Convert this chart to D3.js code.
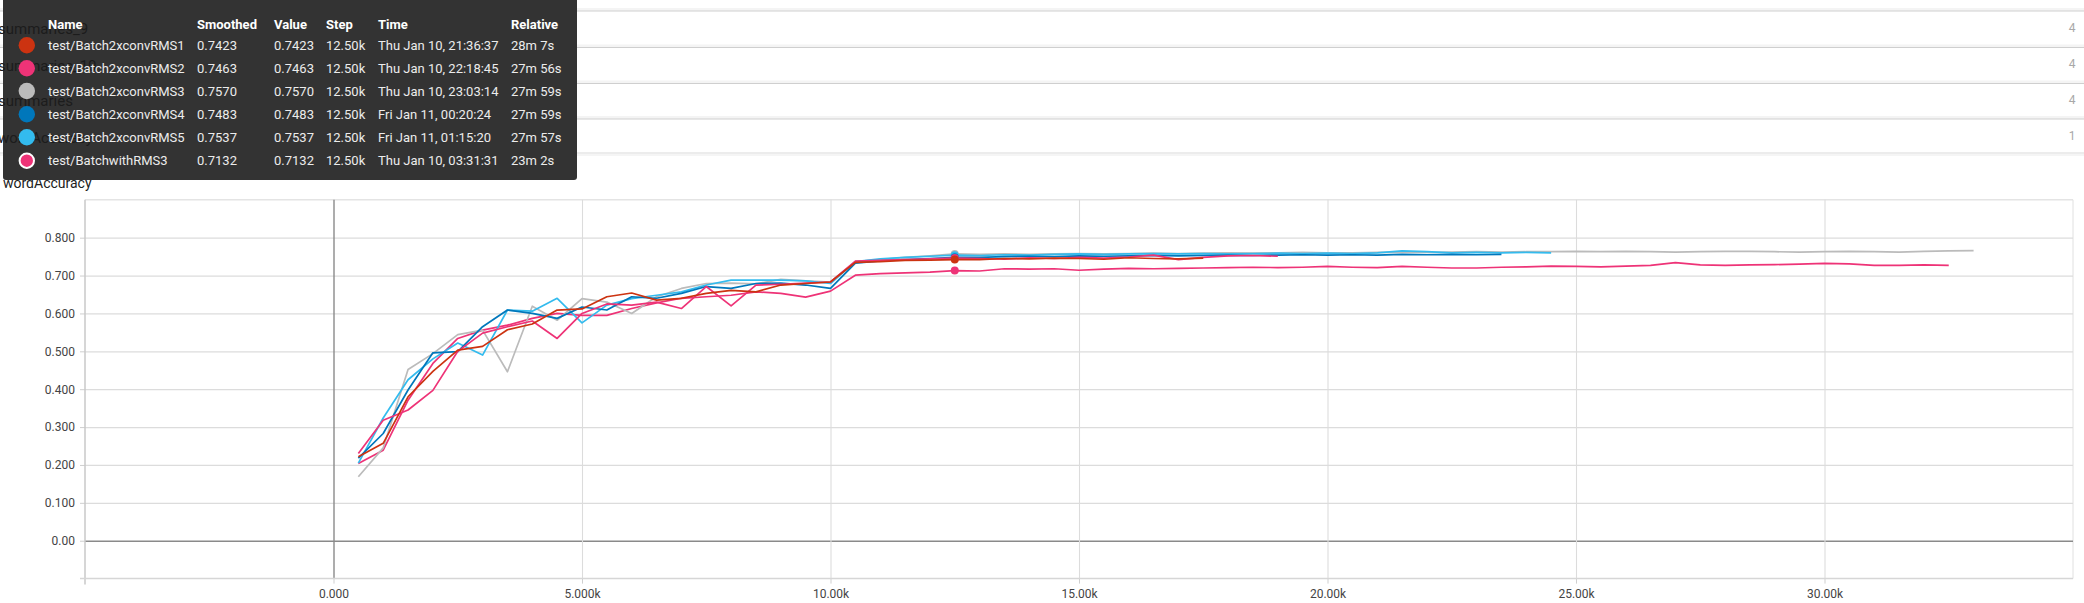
<!DOCTYPE html>
<html><head><meta charset="utf-8">
<script src="https://cdn.jsdelivr.net/npm/d3@7"></script>
<style>
html,body{margin:0;padding:0;background:#fff;overflow:hidden}
svg{display:block;font-family:Roboto,"Noto Sans",sans-serif}
</style>
</head><body><svg id="c" width="2084" height="603"></svg>
<script>
// ---------- data ----------
const steps = [500,1000,1500,2000,2500,3000,3500,4000,4500,5000,5500,6000,6500,7000,7500,8000,8500,9000,9500,10000,
  10500,11000,11500,12000,12500,13000,13500,14000,14500,15000,15500,16000,16500,17000,17500,18000,18500,19000,19500,20000,
  20500,21000,21500,22000,22500,23000,23500,24000,24500,25000,25500,26000,26500,27000,27500,28000,28500,29000,29500,30000,
  30500,31000,31500,32000,32500,33000];

const runNames = ["test/Batch2xconvRMS1","test/Batch2xconvRMS2","test/Batch2xconvRMS3","test/Batch2xconvRMS4","test/Batch2xconvRMS5","test/BatchwithRMS3"];
const runColors = ["#cc3311","#ee3377","#bbbbbb","#0077bb","#33bbee","#ee3377"];

const rms1 = [0.222,0.257,0.380,0.447,0.503,0.513,0.557,0.572,0.609,0.612,0.644,0.654,0.635,0.640,0.653,0.661,0.657,0.675,0.679,0.683,
  0.735,0.737,0.740,0.741,0.7423,0.742,0.745,0.744,0.746,0.745,0.743,0.747,0.745,0.744,0.746];
const rms2 = [0.230,0.318,0.345,0.397,0.500,0.548,0.565,0.580,0.534,0.600,0.625,0.622,0.630,0.613,0.671,0.620,0.675,0.677,0.680,0.683,
  0.738,0.740,0.742,0.744,0.7463,0.745,0.743,0.747,0.745,0.748,0.746,0.749,0.754,0.742,0.748,0.752,0.753,0.751];
const rms3 = [0.169,0.245,0.452,0.494,0.544,0.556,0.446,0.619,0.582,0.639,0.630,0.600,0.644,0.666,0.679,0.680,0.678,0.690,0.686,0.683,
  0.737,0.742,0.748,0.752,0.757,0.756,0.757,0.756,0.757,0.758,0.757,0.758,0.759,0.758,0.759,0.760,0.759,0.760,0.761,0.760,
  0.760,0.761,0.762,0.761,0.762,0.763,0.762,0.763,0.763,0.764,
  0.763,0.764,0.763,0.762,0.763,0.764,0.764,0.763,0.762,0.763,
  0.764,0.763,0.762,0.764,0.765,0.766];
const rms4 = [0.218,0.283,0.398,0.496,0.499,0.565,0.609,0.600,0.587,0.617,0.609,0.644,0.640,0.653,0.671,0.666,0.679,0.680,0.675,0.666,
  0.733,0.739,0.742,0.745,0.7483,0.748,0.750,0.751,0.750,0.752,0.751,0.752,0.753,0.752,0.753,0.754,0.753,0.754,0.755,0.754,
  0.755,0.754,0.756,0.755,0.756,0.755,0.756];
const rms5 = [0.205,0.324,0.425,0.480,0.522,0.490,0.609,0.606,0.640,0.575,0.622,0.639,0.648,0.657,0.675,0.688,0.688,0.688,0.686,0.679,
  0.737,0.744,0.748,0.751,0.7537,0.753,0.755,0.754,0.756,0.757,0.756,0.757,0.758,0.757,0.758,0.757,0.758,0.759,0.758,0.759,
  0.758,0.760,0.765,0.763,0.760,0.761,0.760,0.761,0.760];
const batchRms3 = [0.204,0.239,0.371,0.468,0.534,0.556,0.569,0.587,0.600,0.595,0.595,0.613,0.628,0.640,0.644,0.648,0.657,0.653,0.643,0.659,
  0.701,0.705,0.707,0.709,0.7132,0.712,0.718,0.717,0.718,0.714,0.717,0.719,0.718,0.719,0.720,0.721,0.722,0.721,0.722,0.724,
  0.722,0.721,0.724,0.722,0.720,0.720,0.722,0.723,0.725,0.724,
  0.723,0.725,0.727,0.734,0.728,0.727,0.728,0.729,0.730,0.732,
  0.731,0.727,0.727,0.728,0.727];
const seriesValues = [rms1, rms2, rms3, rms4, rms5, batchRms3];

const yTickVals = [0,0.1,0.2,0.3,0.4,0.5,0.6,0.7,0.8];
const yTickLabels = ["0.00","0.100","0.200","0.300","0.400","0.500","0.600","0.700","0.800"];
const xTickVals = [0,5000,10000,15000,20000,25000,30000];
const xTickLabels = ["0.000","5.000k","10.00k","15.00k","20.00k","25.00k","30.00k"];

const hoverStep = 12500;
const ttHeaders = ["Name","Smoothed","Value","Step","Time","Relative"];
const ttSmoothed = ["0.7423","0.7463","0.7570","0.7483","0.7537","0.7132"];
const ttValue = ["0.7423","0.7463","0.7570","0.7483","0.7537","0.7132"];
const ttStep = ["12.50k","12.50k","12.50k","12.50k","12.50k","12.50k"];
const ttTime = ["Thu Jan 10, 21:36:37","Thu Jan 10, 22:18:45","Thu Jan 10, 23:03:14","Fri Jan 11, 00:20:24","Fri Jan 11, 01:15:20","Thu Jan 10, 03:31:31"];
const ttRelative = ["28m 7s","27m 56s","27m 59s","27m 59s","27m 57s","23m 2s"];

const groupNames = ["summaries_9","summaries_10","summaries","wordAccuracy"];
const groupCounts = ["4","4","4","1"];
const chartTitle = "wordAccuracy";

// ---------- drawing ----------
const svg = d3.select("#c");
svg.append("rect").attr("width",2084).attr("height",603).attr("fill","#fff");

// collapsed group rows
const rowY = [11, 47.5, 83.5, 119];
rowY.forEach((yy,i)=>{
  svg.append("rect").attr("x",0).attr("y",yy-3).attr("width",2084).attr("height",3).attr("fill","#f4f4f4");
  svg.append("line").attr("x1",0).attr("x2",2084).attr("y1",yy).attr("y2",yy)
    .attr("stroke","#cfcfcf").attr("stroke-width",1.2);
  svg.append("text").attr("x",2072).attr("y",yy+20.5).attr("text-anchor","middle")
    .attr("font-size",12).attr("fill","#a8a8a8").text(groupCounts[i]);
});
svg.append("rect").attr("x",0).attr("y",152).attr("width",2084).attr("height",2).attr("fill","#ececec");
svg.append("rect").attr("x",0).attr("y",154).attr("width",2084).attr("height",2).attr("fill","#f5f5f5");

// chart scales
const X0 = 85, X1 = 2073, Y0 = 578.6, Y1 = 199.8;
const x = d3.scaleLinear().domain([-5000,35000]).range([X0,X1]);
const y = d3.scaleLinear().domain([-0.1,0.9]).range([Y0,Y1]);

// chart title
svg.append("text").attr("x",3).attr("y",188).attr("font-size",14).attr("fill","#212121").text(chartTitle);

// borders
svg.append("line").attr("x1",X0).attr("x2",X1).attr("y1",Y1).attr("y2",Y1).attr("stroke","#e4e4e4").attr("stroke-width",1.5);
svg.append("line").attr("x1",X1).attr("x2",X1).attr("y1",Y1).attr("y2",Y0).attr("stroke","#e0e0e0");

// y axis with grid
const yAxis = d3.axisLeft(y).tickValues(yTickVals).tickFormat((d,i)=>yTickLabels[i])
  .tickSize(-(X1-X0)).tickPadding(10);
const gy = svg.append("g").attr("transform",`translate(${X0},0)`).call(yAxis);
gy.select(".domain").remove();
gy.selectAll(".tick line").attr("stroke",d=>d===0?"#8a8a8a":"#dcdcdc").attr("stroke-width",d=>d===0?1.6:1.2);
gy.selectAll(".tick text").attr("font-size",12).attr("fill","#444").attr("font-family","Roboto, sans-serif");
gy.selectAll(".tick").append("line").attr("x1",-5).attr("x2",0).attr("stroke","#cfcfcf");

// x axis with grid
const xAxis = d3.axisBottom(x).tickValues(xTickVals).tickFormat((d,i)=>xTickLabels[i])
  .tickSize(-(Y0-Y1)).tickPadding(11);
const gx = svg.append("g").attr("transform",`translate(0,${Y0})`).call(xAxis);
gx.select(".domain").remove();
gx.selectAll(".tick line").attr("stroke",d=>d===0?"#8a8a8a":"#dcdcdc").attr("stroke-width",d=>d===0?1.4:1.1);
gx.selectAll(".tick text").attr("font-size",12).attr("fill","#444").attr("font-family","Roboto, sans-serif");
gx.selectAll(".tick").append("line").attr("y1",0).attr("y2",5).attr("stroke","#cfcfcf");

// left & bottom borders
svg.append("line").attr("x1",X0).attr("x2",X0).attr("y1",Y1).attr("y2",Y0+6).attr("stroke","#c8c8c8").attr("stroke-width",1.5);
svg.append("line").attr("x1",X0-5).attr("x2",X1).attr("y1",Y0).attr("y2",Y0).attr("stroke","#d6d6d6").attr("stroke-width",1.5);

// lines
const line = d3.line().x(d=>x(d.step)).y(d=>y(d.value));
const drawOrder = [5,2,4,3,1,0];
const seriesData = seriesValues.map(vals => vals.map((v,i)=>({step:steps[i], value:v})));
const gl = svg.append("g");
drawOrder.forEach(si=>{
  gl.append("path").datum(seriesData[si]).attr("d",line)
    .attr("fill","none").attr("stroke",runColors[si]).attr("stroke-width",1.7)
    .attr("stroke-linejoin","round");
});
// hover dots
drawOrder.forEach(si=>{
  const pt = seriesData[si].find(d=>d.step===hoverStep);
  if(pt) gl.append("circle").attr("cx",x(pt.step)).attr("cy",y(pt.value)).attr("r",4).attr("fill",runColors[si]);
});

// tooltip
const tt = svg.append("g");
tt.append("rect").attr("x",3).attr("y",-6).attr("width",574).attr("height",186).attr("rx",3).attr("fill","#333");
// ghost group labels
const ghostY = [34, 71, 106, 143];
groupNames.forEach((n,i)=>{
  tt.append("text").attr("x",-2).attr("y",ghostY[i]).attr("font-size",15).attr("fill","#1c1c1c").text(n);
});
const colX = [48,197,274,326,378,511];
ttHeaders.forEach((h,i)=>{
  tt.append("text").attr("x",colX[i]).attr("y",29).attr("font-size",13).attr("font-weight","bold").attr("fill","#fff").text(h);
});
const rowCY = [45.3,68.3,91,114.3,137.3,160.7];
runNames.forEach((n,i)=>{
  const cy = rowCY[i];
  tt.append("circle").attr("cx",26.8).attr("cy",cy).attr("r",i===5?7.2:8.2).attr("fill",runColors[i])
    .attr("stroke",i===5?"#fff":"none").attr("stroke-width",2);
  const cols = [n, ttSmoothed[i], ttValue[i], ttStep[i], ttTime[i], ttRelative[i]];
  cols.forEach((t,j)=>{
    tt.append("text").attr("x",colX[j]).attr("y",cy+4.6).attr("font-size",13).attr("fill","#ececec").text(t);
  });
});
</script></body></html>
